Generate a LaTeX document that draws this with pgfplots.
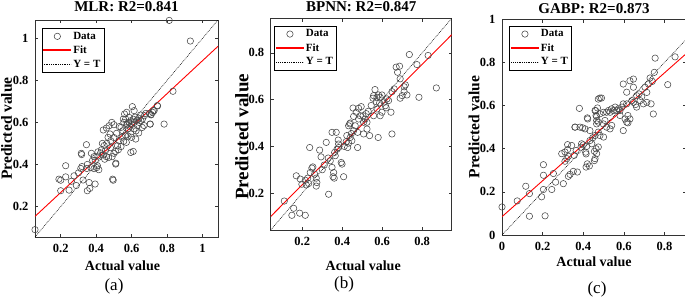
\documentclass[border=0pt]{standalone}
\usepackage{fontspec}
\setmainfont{Liberation Serif}
\usepackage{pgfplots}
\pgfplotsset{compat=1.18}
\definecolor{fitred}{RGB}{255,0,0}
\pgfplotsset{
  regax/.style={
    scale only axis, anchor=south west,
    axis line style={black!80, line width=0.6pt},
    every tick/.style={black!80, line width=0.5pt},
    major tick length=3.2pt,
    tick align=inside,
    xtick pos=both, ytick pos=both,
    /pgf/number format/assume math mode=true,
    ticklabel style={font=\fontsize{12.5}{13}\selectfont\bfseries},
    xticklabel style={yshift=-4pt},
    yticklabel style={xshift=-3pt},
    every axis title/.style={at={(axis description cs:0.5,1)}, anchor=base, font=\fontsize{15}{15}\selectfont\bfseries},
    every axis x label/.style={at={(axis description cs:0.5,0)}, anchor=base, font=\fontsize{14}{14}\selectfont\bfseries},
    every axis y label/.style={rotate=90, anchor=center, font=\fontsize{15.5}{16}\selectfont\bfseries},
    legend style={anchor=north west, font=\fontsize{11}{12}\selectfont\bfseries, inner sep=1.5pt, row sep=1pt, /tikz/every even column/.append style={column sep=3pt}},
    legend cell align=left,
  },
  dat/.style={only marks, mark=o, mark size=3.2pt, mark options={draw=black!72, line width=0.55pt},
    legend image code/.code={\draw[draw=black!72, line width=0.55pt] (13.5pt,0pt) circle[radius=3.2pt];}},
  fitl/.style={draw=fitred, line width=0.9pt, no marks,
    legend image code/.code={\fill[fill=fitred] (0pt,-0.5pt) rectangle (27pt,0.5pt);}},
  ytl/.style={draw=black, line width=0.5pt, dash pattern=on 0.9pt off 0.9pt, no marks,
    legend image code/.code={\draw[draw=black, line width=0.5pt, dash pattern=on 0.9pt off 0.9pt] (0pt,0pt) -- (27pt,0pt);}},
}
\begin{document}
\begin{tikzpicture}
\useasboundingbox (0pt,0pt) rectangle (685pt,298pt);
% ---------------- (a) MLR
\begin{axis}[regax, at={(35pt,61pt)}, width=183pt, height=217pt,
  xmin=0.055, xmax=1.087, ymin=0.055, ymax=1.087,
  xtick={0.2,0.4,0.6,0.8,1}, ytick={0.2,0.4,0.6,0.8,1},
  title={MLR: R2=0.841}, title style={yshift=8.3pt},
  xlabel={Actual value}, xlabel style={yshift=-33pt, xshift=-4pt},
  ylabel={Predicted value}, ylabel style={at={(axis description cs:-0.155,0.5)}},
  legend style={at={(axis description cs:0,1)}, xshift=6.7pt, yshift=-8.3pt},
  legend entries={Data,Fit,Y = T}]
\addplot[dat] coordinates {
(0.055,0.09) (0.19,0.33) (0.20,0.325) (0.228,0.394) (0.228,0.341) (0.20,0.275)
(0.247,0.278) (0.275,0.346) (0.288,0.30) (0.313,0.381) (0.326,0.326) (0.316,0.453)
(0.318,0.447) (0.345,0.494) (0.347,0.381) (0.35,0.275) (0.364,0.286) (0.36,0.314)
(0.394,0.307) (0.373,0.453) (0.388,0.437) (0.37,0.385) (0.388,0.38) (0.403,0.385)
(0.407,0.394) (0.415,0.375) (0.395,0.42) (0.41,0.44) (0.425,0.455) (0.435,0.50)
(0.445,0.49) (0.452,0.465) (0.458,0.437) (0.47,0.433) (0.448,0.425) (0.44,0.445)
(0.49,0.437) (0.50,0.453) (0.51,0.462) (0.458,0.573) (0.473,0.584) (0.488,0.60)
(0.50,0.589) (0.44,0.564) (0.467,0.529) (0.478,0.545) (0.482,0.513) (0.493,0.33)
(0.51,0.402) (0.52,0.489) (0.529,0.513) (0.50,0.528) (0.515,0.548) (0.54,0.576)
(0.556,0.60) (0.566,0.616) (0.576,0.592) (0.595,0.457) (0.604,0.675) (0.614,0.656)
(0.595,0.545) (0.60,0.529) (0.623,0.521) (0.614,0.57) (0.633,0.585) (0.642,0.60)
(0.652,0.608) (0.661,0.616) (0.672,0.632) (0.68,0.643) (0.66,0.576) (0.67,0.585)
(0.70,0.643) (0.71,0.636) (0.718,0.648) (0.727,0.656) (0.745,0.68) (0.704,0.592)
(0.783,0.592) (0.56,0.64) (0.572,0.648) (0.553,0.616) (0.585,0.624) (0.595,0.608)
(0.614,0.60) (0.585,0.60) (0.572,0.588) (0.58,0.57) (0.59,0.58) (0.60,0.59)
(0.61,0.615) (0.62,0.625) (0.63,0.61) (0.64,0.62) (0.65,0.635) (0.625,0.56)
(0.64,0.55) (0.55,0.56) (0.53,0.58) (0.545,0.53) (0.525,0.47) (0.54,0.485)
(0.555,0.51) (0.565,0.54) (0.58,0.535) (0.57,0.505) (0.48,0.48) (0.46,0.50)
(0.43,0.47) (0.41,0.46) (0.38,0.42) (0.35,0.40) (0.32,0.39) (0.30,0.36)
(0.26,0.32) (0.812,1.085) (0.931,0.987) (0.833,0.748) (0.746,0.678) (0.722,0.656)
(0.708,0.637) (0.705,0.592) (0.609,0.462) (0.511,0.406) (0.496,0.325)
};
\addplot[fitl] coordinates {(0.055,0.153) (1.087,0.962)};
\addplot[ytl] coordinates {(0.055,0.055) (1.087,1.087)};
\end{axis}
% ---------------- (b) BPNN
\begin{axis}[regax, at={(270.7pt,68pt)}, width=181pt, height=211.7pt,
  xmin=0.042, xmax=0.948, ymin=0.042, ymax=0.948,
  xtick={0.2,0.4,0.6,0.8}, ytick={0.2,0.4,0.6,0.8},
  title={BPNN: R2=0.847}, title style={yshift=6.6pt},
  xlabel={Actual value}, xlabel style={yshift=-40pt, xshift=2pt},
  ylabel={Predicted value}, ylabel style={at={(axis description cs:-0.159,0.44)}, font=\fontsize{19}{19}\selectfont\bfseries},
  legend style={at={(axis description cs:0,1)}, xshift=3.6pt, yshift=-7.7pt},
  legend entries={Data,Fit,Y = T}]
\addplot[dat] coordinates {
(0.11,0.166) (0.157,0.135) (0.148,0.105) (0.187,0.114) (0.215,0.105) (0.17,0.274)
(0.19,0.26) (0.198,0.238) (0.215,0.255) (0.22,0.235) (0.232,0.241) (0.227,0.264)
(0.24,0.288) (0.248,0.307) (0.253,0.312) (0.237,0.395) (0.262,0.281) (0.27,0.264)
(0.273,0.245) (0.27,0.23) (0.287,0.384) (0.294,0.355) (0.32,0.417) (0.332,0.195)
(0.34,0.338) (0.349,0.46) (0.37,0.46) (0.349,0.31) (0.357,0.288) (0.354,0.27)
(0.36,0.264) (0.362,0.374) (0.365,0.36) (0.38,0.427) (0.382,0.41) (0.382,0.395)
(0.374,0.388) (0.395,0.331) (0.399,0.324) (0.407,0.27) (0.427,0.395) (0.44,0.438)
(0.446,0.455) (0.437,0.496) (0.454,0.564) (0.477,0.395) (0.58,0.438) (0.31,0.32)
(0.30,0.30) (0.33,0.35) (0.42,0.42) (0.41,0.40) (0.736,0.793) (0.83,0.789)
(0.774,0.75) (0.67,0.739) (0.687,0.743) (0.677,0.717) (0.69,0.689) (0.716,0.663)
(0.71,0.655) (0.871,0.65) (0.784,0.61) (0.724,0.62) (0.71,0.634) (0.69,0.606)
(0.70,0.617) (0.649,0.634) (0.66,0.646) (0.644,0.546) (0.599,0.546) (0.564,0.643)
(0.557,0.617) (0.554,0.606) (0.574,0.61) (0.582,0.62) (0.59,0.61) (0.599,0.62)
(0.57,0.591) (0.587,0.586) (0.616,0.574) (0.624,0.603) (0.632,0.596) (0.495,0.57)
(0.482,0.563) (0.47,0.546) (0.49,0.531) (0.504,0.531) (0.457,0.528) (0.482,0.517)
(0.515,0.517) (0.524,0.503) (0.507,0.503) (0.44,0.50) (0.432,0.488) (0.465,0.488)
(0.524,0.474) (0.457,0.467) (0.477,0.46) (0.507,0.453) (0.537,0.446) (0.423,0.446)
(0.448,0.424) (0.432,0.414) (0.649,0.453) (0.59,0.531) (0.557,0.531) (0.574,0.56)
(0.52,0.54) (0.53,0.55) (0.545,0.575) (0.61,0.59) (0.62,0.565)
};
\addplot[fitl] coordinates {(0.042,0.10) (0.948,0.878)};
\addplot[ytl] coordinates {(0.042,0.042) (0.948,0.948)};
\end{axis}
% ---------------- (c) GABP
\begin{axis}[regax, at={(502pt,63pt)}, width=184pt, height=215.7pt,
  xmin=0, xmax=0.906, ymin=0, ymax=1,
  xtick={0,0.2,0.4,0.6,0.8}, ytick={0,0.2,0.4,0.6,0.8,1},
  title={GABP: R2=0.873}, title style={yshift=6pt},
  xlabel={Actual value}, xlabel style={yshift=-31.7pt},
  ylabel={Predicted value}, ylabel style={at={(axis description cs:-0.152,0.5)}},
  legend style={at={(axis description cs:0,1)}, xshift=7.3pt, yshift=-6.7pt},
  legend entries={Data,Fit,Y = T}]
\addplot[dat] coordinates {
(0.0,0.13) (0.075,0.158) (0.135,0.087) (0.135,0.192) (0.117,0.226) (0.212,0.089)
(0.195,0.177) (0.204,0.211) (0.204,0.277) (0.204,0.326) (0.245,0.211) (0.253,0.285)
(0.264,0.245) (0.302,0.238) (0.294,0.377) (0.31,0.342) (0.319,0.354) (0.327,0.365)
(0.323,0.419) (0.323,0.396) (0.327,0.272) (0.335,0.281) (0.351,0.295) (0.371,0.292)
(0.355,0.369) (0.365,0.392) (0.381,0.587) (0.36,0.50) (0.384,0.50) (0.397,0.497)
(0.409,0.492) (0.40,0.418) (0.412,0.384) (0.414,0.376) (0.414,0.315) (0.43,0.32)
(0.42,0.33) (0.42,0.543) (0.466,0.549) (0.458,0.577) (0.47,0.589) (0.392,0.423)
(0.442,0.423) (0.447,0.451) (0.463,0.40) (0.466,0.377) (0.455,0.345) (0.852,0.826)
(0.754,0.82) (0.75,0.754) (0.729,0.728) (0.721,0.70) (0.74,0.712) (0.704,0.685)
(0.713,0.661) (0.816,0.697) (0.745,0.561) (0.734,0.608) (0.713,0.615) (0.696,0.608)
(0.68,0.623) (0.688,0.641) (0.675,0.654) (0.663,0.646) (0.658,0.605) (0.663,0.593)
(0.647,0.615) (0.639,0.623) (0.647,0.723) (0.63,0.715) (0.597,0.70) (0.647,0.685)
(0.614,0.662) (0.597,0.608) (0.614,0.608) (0.59,0.593) (0.581,0.577) (0.573,0.585)
(0.565,0.577) (0.557,0.593) (0.549,0.577) (0.54,0.585) (0.581,0.554) (0.606,0.538)
(0.614,0.523) (0.62,0.554) (0.63,0.538) (0.597,0.484) (0.474,0.63) (0.482,0.635)
(0.49,0.635) (0.461,0.577) (0.463,0.554) (0.482,0.562) (0.499,0.569) (0.515,0.569)
(0.524,0.577) (0.532,0.569) (0.422,0.538) (0.466,0.531) (0.466,0.515) (0.474,0.523)
(0.507,0.531) (0.499,0.515) (0.515,0.50) (0.532,0.492) (0.54,0.508) (0.359,0.50)
(0.433,0.484) (0.474,0.477) (0.458,0.461) (0.482,0.461) (0.433,0.438) (0.417,0.411)
(0.389,0.407) (0.343,0.415) (0.31,0.385) (0.474,0.408) (0.458,0.354) (0.50,0.454)
(0.62,0.52) (0.455,0.388)
};
\addplot[fitl] coordinates {(0,0.085) (0.906,0.84)};
\addplot[ytl] coordinates {(0,0) (0.906,0.906)};
\end{axis}
\node[font=\fontsize{17}{17}\selectfont, anchor=base] at (114pt,8pt) {(a)};
\node[font=\fontsize{17}{17}\selectfont, anchor=base] at (344pt,9.5pt) {(b)};
\node[font=\fontsize{17}{17}\selectfont, anchor=base] at (597pt,4.5pt) {(c)};
\end{tikzpicture}
\end{document}
